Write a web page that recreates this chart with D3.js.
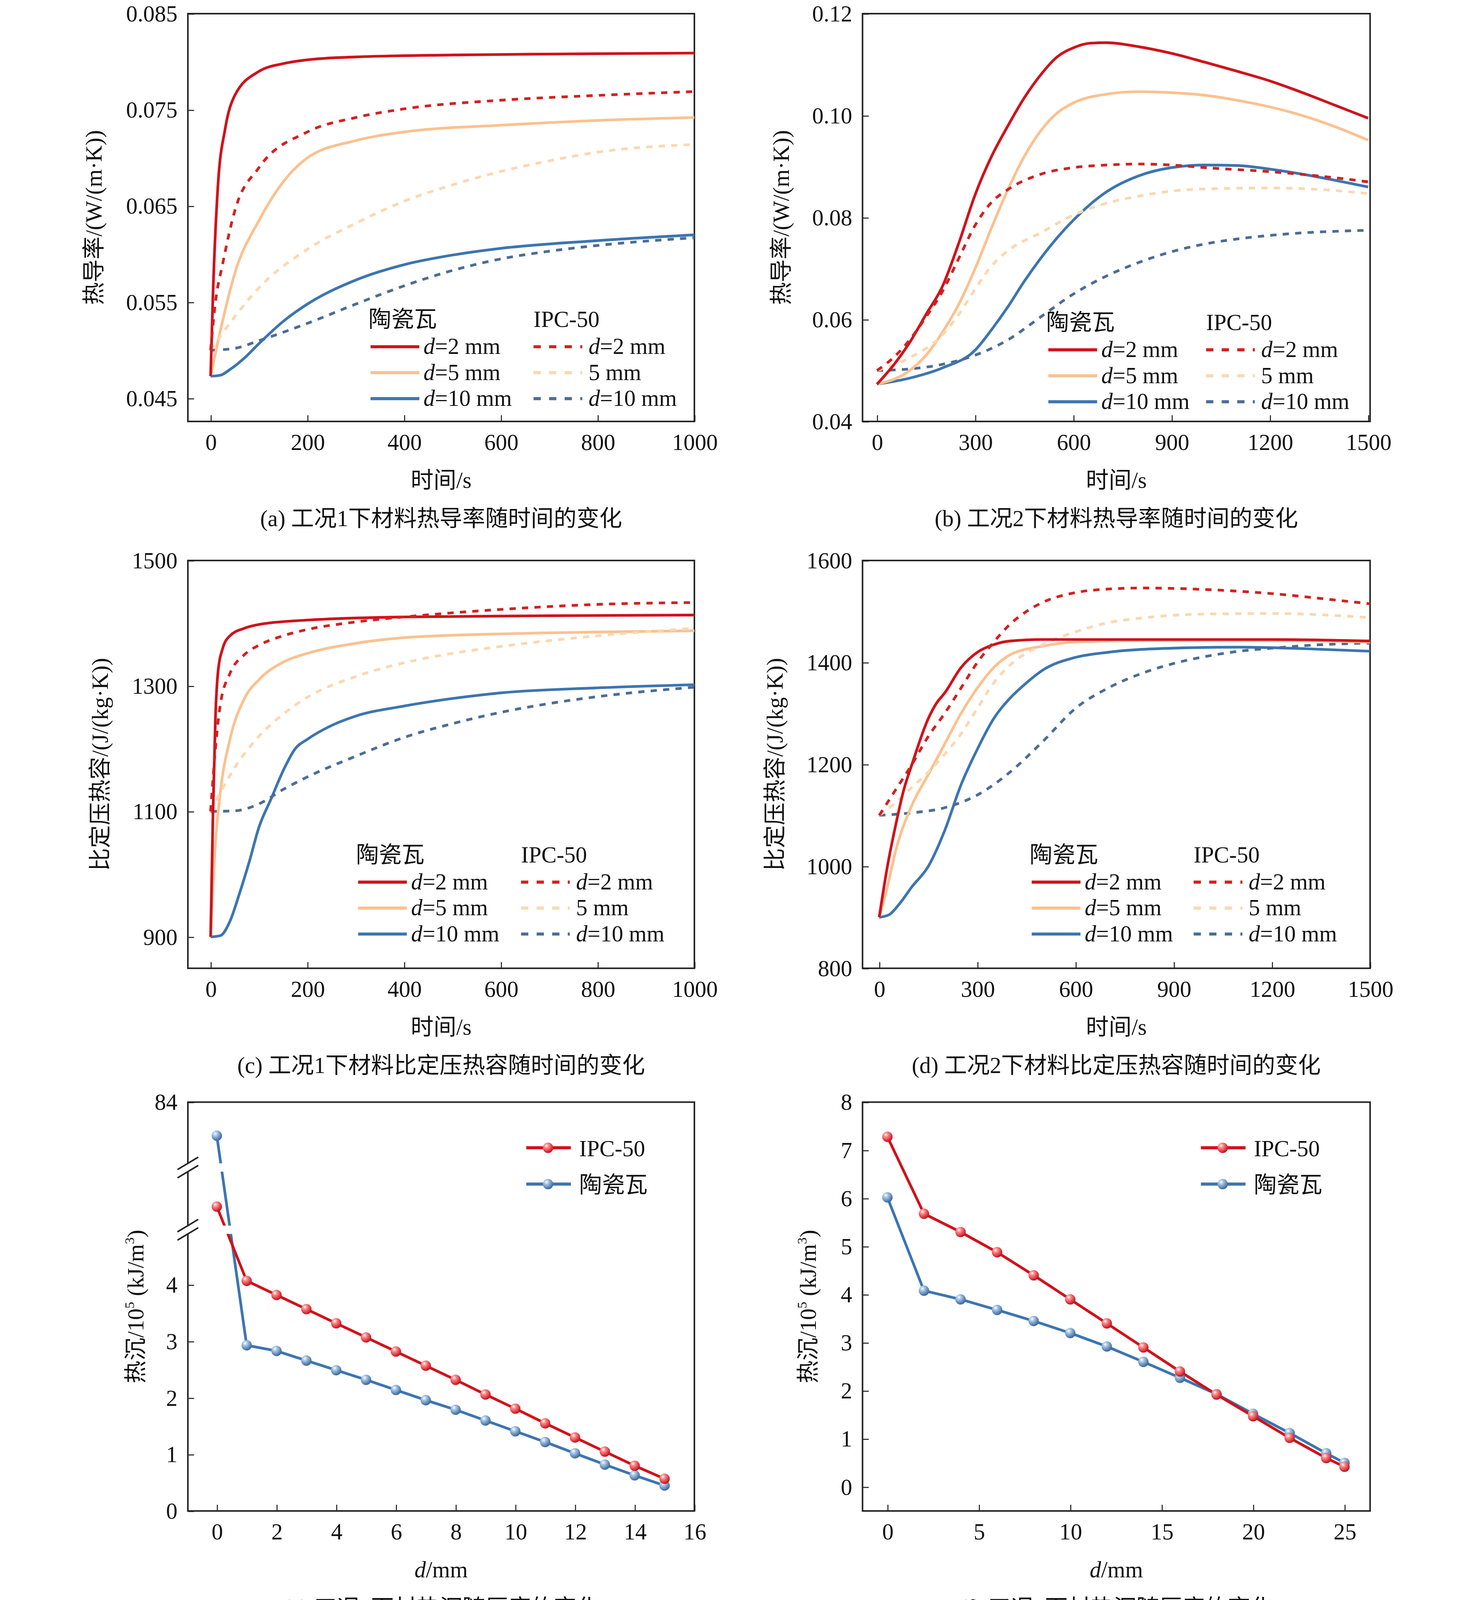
<!DOCTYPE html>
<html><head><meta charset="utf-8">
<script src="https://cdn.jsdelivr.net/npm/d3@7/dist/d3.min.js"></script>
<style>body{margin:0;background:#fff;overflow:hidden}svg{display:block}text{font-family:"Liberation Serif","Noto Sans CJK SC",serif;fill:#111}</style>
</head><body>
<svg id="fig" width="3780" height="4166" viewBox="0 0 1423 1568"></svg>
<script>
// ---- data: (a) thermal conductivity, case 1
var a_cer2 = [[0,0.0473],[5,0.056],[15,0.067],[30,0.073],[50,0.0765],[100,0.0790],[150,0.0798],[200,0.0802],[300,0.0805],[500,0.0807],[700,0.0808],[1000,0.0809]];
var a_ipc2 = [[0,0.050],[10,0.055],[25,0.059],[50,0.0645],[100,0.0690],[200,0.0727],[300,0.0742],[400,0.0751],[600,0.0760],[800,0.0765],[1000,0.0769]];
var a_cer5 = [[0,0.0473],[20,0.052],[50,0.058],[100,0.0635],[150,0.0675],[200,0.070],[300,0.0718],[400,0.0727],[600,0.0734],[800,0.0739],[1000,0.0742]];
var a_ipc5 = [[0,0.050],[50,0.0535],[100,0.0565],[200,0.0605],[300,0.0632],[400,0.0655],[500,0.0672],[600,0.0686],[700,0.0697],[800,0.0706],[1000,0.0714]];
var a_cer10 = [[0,0.0473],[20,0.0474],[40,0.048],[70,0.0492],[100,0.0507],[150,0.053],[200,0.0548],[300,0.0573],[400,0.0589],[500,0.0599],[600,0.0606],[800,0.0614],[1000,0.0620]];
var a_ipc10 = [[0,0.050],[50,0.0502],[100,0.051],[200,0.0528],[300,0.0548],[400,0.0567],[500,0.0583],[600,0.0595],[700,0.0603],[800,0.0609],[1000,0.0617]];
// (b) thermal conductivity, case 2
var b_cer2 = [[0,0.0473],[50,0.051],[100,0.0555],[150,0.061],[200,0.0665],[250,0.075],[300,0.0845],[350,0.092],[400,0.098],[450,0.1035],[500,0.108],[550,0.1115],[600,0.1133],[650,0.1142],[700,0.1143],[800,0.1135],[900,0.1122],[1000,0.1105],[1100,0.1087],[1200,0.1068],[1300,0.1045],[1400,0.102],[1500,0.0995]];
var b_ipc2 = [[0,0.050],[50,0.0525],[100,0.056],[150,0.0605],[200,0.0655],[250,0.072],[300,0.0785],[350,0.083],[400,0.0855],[500,0.0885],[600,0.0898],[700,0.0903],[800,0.0905],[900,0.0903],[1000,0.0898],[1200,0.089],[1400,0.0878],[1500,0.087]];
var b_cer5 = [[0,0.0473],[100,0.050],[150,0.053],[200,0.0575],[250,0.063],[300,0.070],[350,0.078],[400,0.0855],[450,0.092],[500,0.097],[550,0.1005],[600,0.1025],[700,0.1042],[800,0.1047],[900,0.1045],[1000,0.104],[1100,0.1030],[1200,0.1017],[1300,0.100],[1400,0.0978],[1500,0.0952]];
var b_ipc5 = [[0,0.050],[100,0.0525],[200,0.057],[250,0.061],[300,0.066],[350,0.0705],[400,0.0735],[500,0.077],[600,0.0805],[700,0.0828],[800,0.0842],[900,0.0852],[1000,0.0856],[1200,0.0858],[1400,0.0853],[1500,0.0847]];
var b_cer10 = [[0,0.0473],[100,0.0485],[200,0.0505],[300,0.054],[350,0.058],[400,0.0625],[450,0.0675],[500,0.072],[550,0.076],[600,0.0795],[700,0.085],[800,0.0882],[900,0.0898],[1000,0.0903],[1100,0.0902],[1200,0.0895],[1300,0.0885],[1400,0.0873],[1500,0.086]];
var b_ipc10 = [[0,0.050],[100,0.0503],[200,0.0512],[300,0.053],[400,0.056],[500,0.0605],[600,0.065],[700,0.0685],[800,0.0712],[900,0.0733],[1000,0.0748],[1100,0.0758],[1200,0.0765],[1300,0.077],[1400,0.0773],[1500,0.0775]];
// (c) specific heat, case 1
var c_cer2 = [[0,900],[5,1100],[10,1250],[15,1320],[25,1360],[40,1380],[70,1392],[100,1398],[200,1405],[400,1410],[700,1412],[1000,1413]];
var c_ipc2 = [[0,1100],[10,1200],[20,1270],[40,1320],[70,1350],[100,1365],[150,1380],[200,1390],[300,1402],[400,1410],[600,1422],[800,1430],[1000,1433]];
var c_cer5 = [[0,900],[10,1050],[20,1130],[40,1215],[70,1280],[100,1310],[150,1338],[200,1352],[300,1368],[400,1377],[600,1383],[800,1386],[1000,1388]];
var c_ipc5 = [[0,1100],[20,1130],[50,1170],[100,1220],[150,1255],[200,1282],[300,1315],[400,1337],[500,1352],[600,1363],[800,1380],[1000,1392]];
var c_cer10 = [[0,900],[20,902],[40,925],[60,970],[80,1020],[100,1075],[125,1120],[150,1165],[175,1200],[200,1215],[250,1237],[300,1252],[400,1268],[500,1280],[600,1289],[800,1297],[1000,1302]];
var c_ipc10 = [[0,1100],[50,1101],[100,1112],[150,1135],[200,1155],[300,1188],[400,1218],[500,1240],[600,1258],[700,1272],[800,1283],[1000,1298]];
// (d) specific heat, case 2
var d_cer2 = [[0,900],[25,1000],[50,1080],[75,1150],[100,1200],[150,1290],[175,1320],[200,1340],[250,1390],[300,1420],[350,1435],[400,1442],[500,1445],[800,1445],[1200,1445],[1500,1442]];
var d_ipc2 = [[0,1100],[50,1150],[100,1200],[150,1255],[200,1300],[250,1350],[300,1400],[350,1440],[400,1475],[450,1500],[500,1518],[600,1537],[700,1544],[800,1546],[1000,1543],[1200,1535],[1400,1522],[1500,1515]];
var d_cer5 = [[0,900],[25,960],[50,1030],[100,1120],[150,1180],[200,1240],[250,1300],[300,1350],[350,1390],[400,1415],[500,1432],[600,1440],[800,1443],[1200,1443],[1500,1440]];
var d_ipc5 = [[0,1100],[50,1125],[100,1155],[150,1185],[200,1220],[250,1260],[300,1310],[350,1360],[400,1395],[500,1435],[600,1460],[700,1478],[800,1487],[1000,1495],[1200,1496],[1500,1488]];
var d_cer10 = [[0,900],[30,905],[60,925],[100,960],[150,1000],[200,1070],[250,1160],[300,1230],[350,1290],[400,1330],[450,1360],[500,1385],[600,1410],[700,1420],[900,1428],[1100,1430],[1300,1427],[1500,1422]];
var d_ipc10 = [[0,1100],[100,1105],[200,1115],[300,1140],[400,1185],[500,1245],[600,1310],[700,1350],[800,1378],[900,1398],[1000,1412],[1100,1422],[1200,1428],[1300,1433],[1500,1438]];
// (e) heat sink vs thickness, case 1 (value at d=0 lies above the axis break)
var e_d = [0,1,2,3,4,5,6,7,8,9,10,11,12,13,14,15];
var e_ipc = [7,4.07,3.82,3.57,3.32,3.07,2.82,2.57,2.32,2.06,1.81,1.55,1.30,1.05,0.80,0.57];
var e_cer = [46,2.93,2.83,2.66,2.49,2.32,2.14,1.96,1.79,1.60,1.41,1.22,1.02,0.82,0.63,0.45];
// (f) heat sink vs thickness, case 2
var f_d = [0,2,4,6,8,10,12,14,16,18,20,22,24,25];
var f_ipc = [7.28,5.68,5.3,4.88,4.4,3.9,3.4,2.9,2.4,1.92,1.47,1.02,0.6,0.42];
var f_cer = [6.02,4.08,3.9,3.68,3.45,3.2,2.92,2.6,2.27,1.93,1.52,1.12,0.7,0.5];

var RED = "#d0121b", ORA = "#fbc18f", BLU = "#3c75b0";
var RED_D = "#d42020", ORA_D = "#fcd7b0", BLU_D = "#4b6d95";
var FS = 22;

var svg = d3.select("#fig");
svg.append("rect").attr("width",1423).attr("height",1568).attr("fill","#fff");

function panel(o) {
  var g = svg.append("g");
  var x = o.x, y = o.y;
  var L = o.box[0], R = o.box[1], T = o.box[2], B = o.box[3];
  g.append("g").attr("transform","translate(0,"+B+")")
    .call(d3.axisBottom(x).tickValues(o.xt).tickSize(-6).tickPadding(12).tickFormat(o.xf || d3.format("d")))
    .call(s => { s.select(".domain").remove(); s.selectAll("text").attr("font-size",FS).style("font-family","Liberation Serif"); s.selectAll("line").attr("stroke","#222"); });
  g.append("g").attr("transform","translate("+L+",0)")
    .call(d3.axisLeft(y).tickValues(o.yt).tickSize(-6).tickPadding(10).tickFormat(o.yf))
    .call(s => { s.select(".domain").remove(); s.selectAll("text").attr("font-size",FS).style("font-family","Liberation Serif"); s.selectAll("line").attr("stroke","#222"); });
  g.append("rect").attr("x",L).attr("y",T).attr("width",R-L).attr("height",B-T)
    .attr("fill","none").attr("stroke","#222").attr("stroke-width",1.5);
  var cx = (L+R)/2;
  g.append("text").attr("x",o.ylx).attr("y",(T+B)/2).attr("transform","rotate(-90,"+o.ylx+","+((T+B)/2)+")")
    .attr("text-anchor","middle").attr("font-size",FS).html(o.ylab);
  g.append("text").attr("x",cx).attr("y",B+64).attr("text-anchor","middle").attr("font-size",FS).html(o.xlab);
  g.append("text").attr("x",cx).attr("y",B+101).attr("text-anchor","middle").attr("font-size",FS).text(o.cap);
  return g;
}

function curvePanel(o) {
  var x = d3.scaleLinear().domain(o.xd).range([o.box[0],o.box[1]]);
  var y = d3.scaleLinear().domain(o.yd).range([o.box[3],o.box[2]]);
  o.x = x; o.y = y;
  var g = panel(o);
  var line = d3.line().x(d=>x(d[0])).y(d=>y(d[1])).curve(d3.curveMonotoneX);
  var series = [
    {d:o.s[0],c:BLU,dash:null},{d:o.s[1],c:BLU_D,dash:"6,6"},
    {d:o.s[2],c:ORA,dash:null},{d:o.s[3],c:ORA_D,dash:"6,6"},
    {d:o.s[4],c:RED,dash:null},{d:o.s[5],c:RED_D,dash:"6,6"}];
  g.selectAll("path.s").data(series).enter().append("path")
    .attr("d",s=>line(s.d)).attr("fill","none").attr("stroke",s=>s.c)
    .attr("stroke-width",2.6).attr("stroke-dasharray",s=>s.dash);
  // legend
  var lg = o.leg;
  g.append("text").attr("x",lg.x1).attr("y",lg.y).attr("font-size",FS).text("陶瓷瓦");
  g.append("text").attr("x",lg.x2+2).attr("y",lg.y).attr("font-size",FS).text("IPC-50");
  var rows = [["2",RED,RED_D,true],["5",ORA,ORA_D,false],["10",BLU,BLU_D,true]];
  rows.forEach(function(r,i){
    var yy = lg.y + 26 + i*25;
    g.append("line").attr("x1",lg.x1+2).attr("x2",lg.x1+49).attr("y1",yy-7).attr("y2",yy-7).attr("stroke",r[1]).attr("stroke-width",3);
    g.append("text").attr("x",lg.x1+53).attr("y",yy).attr("font-size",FS).html("<tspan font-style='italic'>d</tspan>="+r[0]+" mm");
    g.append("line").attr("x1",lg.x2+2).attr("x2",lg.x2+49).attr("y1",yy-7).attr("y2",yy-7).attr("stroke",r[2]).attr("stroke-width",3).attr("stroke-dasharray","7,8");
    g.append("text").attr("x",lg.x2+55).attr("y",yy).attr("font-size",FS).html(r[3] ? "<tspan font-style='italic'>d</tspan>="+r[0]+" mm" : r[0]+" mm");
  });
}

var defs = svg.append("defs");
[["gr","#ff8a8a","#c8101a"],["gb","#a9c6e6","#3a689c"]].forEach(function(c){
  var rg = defs.append("radialGradient").attr("id",c[0]).attr("cx","0.35").attr("cy","0.3").attr("r","0.7");
  rg.append("stop").attr("offset","0").attr("stop-color","#fff");
  rg.append("stop").attr("offset","0.3").attr("stop-color",c[1]);
  rg.append("stop").attr("offset","1").attr("stop-color",c[2]);
});

function dotPanel(o) {
  var x = d3.scaleLinear().domain(o.xd).range([o.box[0],o.box[1]]);
  var y = d3.scaleLinear().domain(o.yd).range(o.yr);
  o.x = x; o.y = y;
  var g = panel(o);
  var line = d3.line().x(d=>x(d[0])).y(d=>y(d[1]));
  var sets = [{v:o.cer,c:BLU,f:"url(#gb)"},{v:o.ipc,c:RED,f:"url(#gr)"}];
  sets.forEach(function(s){
    var pts = o.dd.map((d,i)=>[d,s.v[i]]);
    g.append("path").attr("d",line(pts)).attr("fill","none").attr("stroke",s.c).attr("stroke-width",2.6);
  });
  if (o.brk) {
    o.brk.forEach(function(by){
      g.append("rect").attr("x",o.box[0]-10).attr("y",by-4).attr("width",60).attr("height",8).attr("fill","#fff");
      [-4,4].forEach(function(dy){
        g.append("line").attr("x1",o.box[0]-10).attr("x2",o.box[0]+10).attr("y1",by+dy+6).attr("y2",by+dy-6).attr("stroke","#222").attr("stroke-width",1.5);
      });
    });
  }
  sets.forEach(function(s){
    g.selectAll(null).data(o.dd.map((d,i)=>[d,s.v[i]])).enter().append("circle")
      .attr("cx",d=>x(d[0])).attr("cy",d=>y(d[1])).attr("r",5).attr("fill",s.f);
  });
  var lg = o.leg;
  [["IPC-50",RED,"url(#gr)"],["陶瓷瓦",BLU,"url(#gb)"]].forEach(function(r,i){
    var yy = lg.y + i*35;
    g.append("line").attr("x1",lg.x).attr("x2",lg.x+43).attr("y1",yy).attr("y2",yy).attr("stroke",r[1]).attr("stroke-width",3);
    g.append("circle").attr("cx",lg.x+21).attr("cy",yy).attr("r",5).attr("fill",r[2]);
    g.append("text").attr("x",lg.x+51).attr("y",yy+8).attr("font-size",FS).text(r[0]);
  });
}

var timeLab = "时间/s";
curvePanel({box:[181,669,13,406], xd:[-47,1000], yd:[0.0426,0.085], xt:[0,200,400,600,800,1000],
  yt:[0.045,0.055,0.065,0.075,0.085], yf:d3.format(".3f"), ylx:98,
  ylab:"热导率/(W/(m·K))", xlab:timeLab, cap:"(a) 工况1下材料热导率随时间的变化",
  s:[a_cer10,a_ipc10,a_cer5,a_ipc5,a_cer2,a_ipc2], leg:{x1:355,x2:512,y:315}});
curvePanel({box:[831,1320,13,406], xd:[-44,1506], yd:[0.04,0.12], xt:[0,300,600,900,1200,1500],
  yt:[0.04,0.06,0.08,0.10,0.12], yf:d3.format(".2f"), ylx:760,
  ylab:"热导率/(W/(m·K))", xlab:timeLab, cap:"(b) 工况2下材料热导率随时间的变化",
  s:[b_cer10,b_ipc10,b_cer5,b_ipc5,b_cer2,b_ipc2], leg:{x1:1008,x2:1160,y:318}});
curvePanel({box:[181,669,540,933], xd:[-47,1000], yd:[850,1500], xt:[0,200,400,600,800,1000],
  yt:[900,1100,1300,1500], yf:d3.format("d"), ylx:104,
  ylab:"比定压热容/(J/(kg·K))", xlab:timeLab, cap:"(c) 工况1下材料比定压热容随时间的变化",
  s:[c_cer10,c_ipc10,c_cer5,c_ipc5,c_cer2,c_ipc2], leg:{x1:343,x2:500,y:831}});
curvePanel({box:[831,1320,540,933], xd:[-51,1500], yd:[800,1600], xt:[0,300,600,900,1200,1500],
  yt:[800,1000,1200,1400,1600], yf:d3.format("d"), ylx:754,
  ylab:"比定压热容/(J/(kg·K))", xlab:timeLab, cap:"(d) 工况2下材料比定压热容随时间的变化",
  s:[d_cer10,d_ipc10,d_cer5,d_ipc5,d_cer2,d_ipc2], leg:{x1:992,x2:1148,y:831}});

var dLab = "<tspan font-style='italic'>d</tspan>/mm";
var sinkLab = "热沉/10<tspan font-size='13' dy='-9'>5</tspan><tspan dy='9'> (kJ/m</tspan><tspan font-size='13' dy='-9'>3</tspan><tspan dy='9'>)</tspan>";
dotPanel({box:[181,669,1062,1456], xd:[-0.97,16], yd:[0,4.9,10,84], yr:[1456,1189,1125,1062],
  xt:[0,2,4,6,8,10,12,14,16], yt:[0,1,2,3,4,84], yf:d3.format("d"), ylx:138,
  ylab:sinkLab, xlab:dLab, cap:"(e) 工况1下材热沉随厚度的变化",
  dd:e_d, ipc:e_ipc, cer:e_cer, brk:[1125,1185], leg:{x:507,y:1106}});
dotPanel({box:[831,1320,1062,1456], xd:[-1.36,26.4], yd:[-0.5,8], yr:[1456,1062],
  xt:[0,5,10,15,20,25], yt:[0,1,2,3,4,5,6,7,8], yf:d3.format("d"), ylx:786,
  ylab:sinkLab, xlab:dLab, cap:"(f) 工况2下材热沉随厚度的变化",
  dd:f_d, ipc:f_ipc, cer:f_cer, leg:{x:1157,y:1106}});
</script>
</body></html>
